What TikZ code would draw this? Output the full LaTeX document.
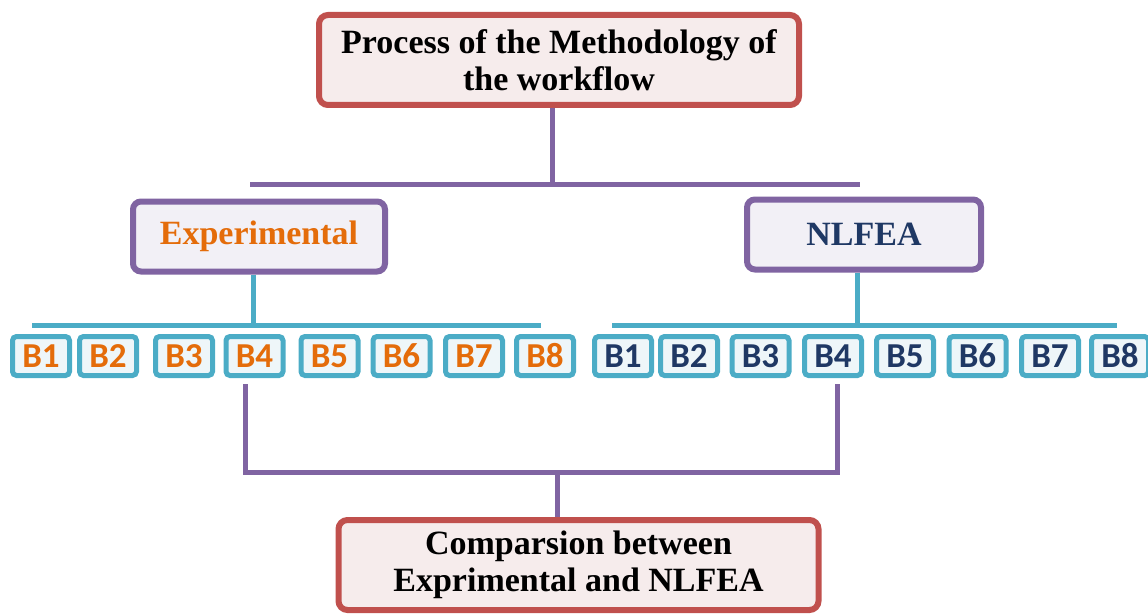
\documentclass[tikz,border=0pt]{standalone}
\usepackage{fontspec}
\setmainfont{Liberation Serif}
\newfontfamily\bfont{Carlito}
\usetikzlibrary{positioning,calc}

\definecolor{boxred}{HTML}{C0504D}
\definecolor{redfill}{HTML}{F6ECEC}
\definecolor{boxpurple}{HTML}{8064A2}
\definecolor{purplefill}{HTML}{F2F0F6}
\definecolor{boxcyan}{HTML}{4BACC6}
\definecolor{cyanfill}{HTML}{EEF6F9}
\definecolor{exporange}{HTML}{E46C0A}
\definecolor{femnavy}{HTML}{1F3864}

\tikzset{
  mainbox/.style={draw=boxred, fill=redfill, line width=6pt, rounded corners=9pt,
    inner sep=0pt, minimum width=480pt, minimum height=90pt, align=center,
    font=\fontsize{34}{37}\selectfont\bfseries},
  groupbox/.style={draw=boxpurple, fill=purplefill, line width=6pt, rounded corners=8pt,
    inner sep=0pt, minimum height=70pt, font=\fontsize{34}{37}\selectfont\bfseries},
  beambox/.style={draw=boxcyan, fill=cyanfill, line width=5pt, rounded corners=4pt,
    inner sep=0pt, minimum width=57pt, minimum height=39pt,
    font=\fontsize{35}{35}\bfont\bfseries},
  purpleline/.style={draw=boxpurple, line width=5pt},
  cyanline/.style={draw=boxcyan, line width=5pt}
}

\begin{document}
\begin{tikzpicture}[x=1pt,y=-1pt]
  \useasboundingbox (0,0) rectangle (1148,615);

  % main boxes
  \node [mainbox] (top) at (559,60) {Process of the Methodology of\\the workflow};
  \node [groupbox, minimum width=252pt, text=exporange] (exp) at (259,236.5) {Experimental};
  \node [groupbox, minimum width=234pt, text=femnavy] (fea) at (864,234.5) {NLFEA};
  \node [mainbox] (cmp) at (578.5,565) {Comparsion between\\Exprimental and NLFEA};

  % beams
  \foreach \x [count=\i] in {41,108,184,254.5,329.5,401.5,474,545}
    \node [beambox, text=exporange] (e\i) at (\x,356) {B\i};
  \foreach \x [count=\i] in {623,689,760.5,833,905,977.5,1050,1120}
    \node [beambox, text=femnavy] (n\i) at (\x,356) {B\i};

  % top tree
  \coordinate (tbus) at (552,184);
  \draw [purpleline] (top.south -| tbus) -- (tbus);
  \draw [purpleline] (250,184) -- (860,184);

  % beam buses
  \coordinate (ebus) at (253,325);
  \coordinate (nbus) at (857,325);
  \draw [cyanline] (exp.south -| ebus) -- (ebus);
  \draw [cyanline] (32,325) -- (541,325);
  \draw [cyanline] (fea.south -| nbus) -- (nbus);
  \draw [cyanline] (612,325) -- (1117,325);

  % comparison bracket
  \coordinate (cl) at (245,472);
  \coordinate (cr) at (837,472);
  \coordinate (cm) at (557,472);
  \draw [purpleline] (e4.south -| cl) ++(0,6) -- (cl) -- (cr) -- ($(n4.south -| cr)+(0,6)$);
  \draw [purpleline] (cm) -- (cmp.north -| cm);
\end{tikzpicture}
\end{document}
